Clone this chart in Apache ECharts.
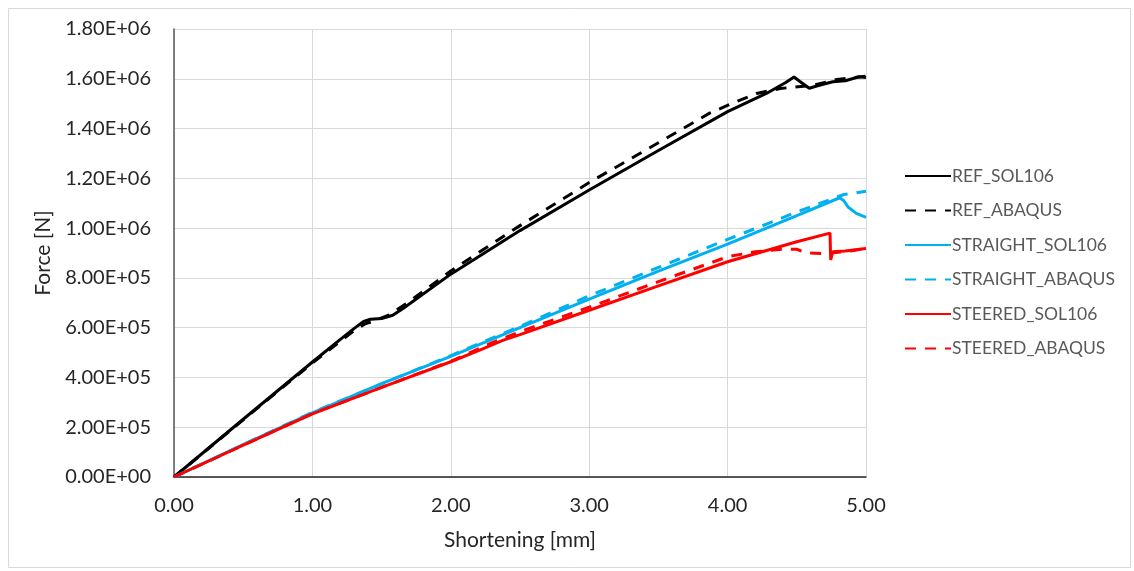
<!DOCTYPE html>
<html>
<head>
<meta charset="utf-8">
<script src="https://cdn.jsdelivr.net/npm/echarts@6/dist/echarts.min.js"></script>
<style>
  html, body { margin: 0; padding: 0; background: #fff; }
  #chart { width: 1134px; height: 571px; }
</style>
</head>
<body>
<div id="chart"></div>
<script>
// Shortening [mm], Force [N]
const refSol106 = [
  [0,0],[0.5,232000],[1.0,462000],[1.2,552000],[1.3,596000],[1.37,625000],[1.42,634000],
  [1.5,637000],[1.58,650000],[1.65,675000],[2.0,815000],[2.5,990000],[3.0,1153000],
  [3.5,1312000],[4.0,1468000],[4.28,1541000],[4.42,1585000],[4.48,1607000],[4.52,1590000],
  [4.59,1562000],[4.65,1572000],[4.76,1588000],[4.85,1592000],[4.95,1608000],[5.0,1605000]
];
const refAbaqus = [
  [0,0],[0.5,230000],[1.0,458000],[1.2,545000],[1.3,588000],[1.38,615000],[1.45,628000],
  [1.55,650000],[1.7,705000],[2.0,828000],[2.21,905000],[2.5,1010000],[3.0,1183000],
  [3.5,1343000],[3.87,1462000],[4.04,1503000],[4.21,1541000],[4.38,1561000],[4.62,1574000],
  [4.79,1597000],[5.0,1610000]
];
const straightSol106 = [
  [0,0],[0.5,130000],[1.0,258000],[1.5,375000],[2.0,485000],[2.5,600000],[3.0,715000],
  [3.5,827000],[4.0,936000],[4.5,1050000],[4.81,1122000],[4.84,1110000],[4.87,1085000],
  [4.93,1059000],[5.0,1043000]
];
const straightAbaqus = [
  [0,0],[1.0,260000],[2.0,488000],[2.5,605000],[3.0,728000],[3.5,842000],[4.0,955000],
  [4.3,1020000],[4.5,1065000],[4.84,1135000],[5.0,1148000]
];
const steeredSol106 = [
  [0,0],[0.5,128000],[1.0,254000],[1.5,360000],[2.0,463000],[2.2,508000],[2.38,550000],
  [2.5,572000],[3.0,670000],[3.5,768000],[4.0,865000],[4.5,945000],[4.74,980000],
  [4.745,872000],[4.76,905000],[4.85,908000],[5.0,918000]
];
const steeredAbaqus = [
  [0,0],[1.0,255000],[2.0,465000],[2.3,540000],[2.5,584000],[3.0,682000],[3.5,785000],
  [4.0,885000],[4.2,905000],[4.4,915000],[4.5,915000],[4.57,900000],[4.7,898000],
  [4.85,905000],[5.0,918000]
];

const seriesNames = ['REF_SOL106','REF_ABAQUS','STRAIGHT_SOL106','STRAIGHT_ABAQUS','STEERED_SOL106','STEERED_ABAQUS'];
const seriesData = [refSol106, refAbaqus, straightSol106, straightAbaqus, steeredSol106, steeredAbaqus];
const seriesColors = ['#000000','#000000','#00b0f0','#00b0f0','#ff0000','#ff0000'];
const seriesDashed = [false, true, false, true, false, true];

const xMin = 0, xMax = 5, xStep = 1;
const yMin = 0, yMax = 1800000, yStep = 200000;

function sci(v) {
  if (v === 0) return '0.00E+00';
  const s = v.toExponential(2).toUpperCase();
  const m = s.match(/^(.*)E([+-])(\d+)$/);
  return m[1] + 'E' + m[2] + (m[3].length < 2 ? '0' + m[3] : m[3]);
}

const FONT = 'Lato, "Open Sans", sans-serif';
const chart = echarts.init(document.getElementById('chart'), null, { renderer: 'canvas' });

chart.setOption({
  animation: false,
  backgroundColor: '#ffffff',
  graphic: [{
    type: 'rect', left: 6, top: 6,
    shape: { width: 1122, height: 559 },
    style: { fill: 'none', stroke: '#d9d9d9', lineWidth: 1 },
    silent: true
  }],
  grid: { left: 174, right: 268, top: 29, bottom: 94, containLabel: false },
  legend: {
    orient: 'vertical',
    left: 899, top: 162,
    itemWidth: 46, itemHeight: 14,
    itemGap: 16.5,
    data: seriesNames,
    itemStyle: { opacity: 0, borderWidth: 0 },
    textStyle: { color: '#595959', fontSize: 17.5, fontFamily: FONT, padding: [0, 0, 0, -4] }
  },
  xAxis: {
    type: 'value', min: xMin, max: xMax, interval: xStep,
    name: 'Shortening [mm]', nameLocation: 'middle', nameGap: 53,
    nameTextStyle: { color: '#262626', fontSize: 21, fontFamily: FONT },
    axisLine: { show: true, lineStyle: { color: '#262626', width: 1.5 } },
    axisTick: { show: false },
    axisLabel: { color: '#262626', fontSize: 20, fontFamily: FONT, margin: 19,
      formatter: v => v.toFixed(2) },
    splitLine: { show: true, lineStyle: { color: '#d9d9d9', width: 1 } }
  },
  yAxis: {
    type: 'value', min: yMin, max: yMax, interval: yStep,
    name: 'Force [N]', nameLocation: 'middle', nameGap: 120, nameRotate: 90,
    nameTextStyle: { color: '#262626', fontSize: 21, fontFamily: FONT },
    axisLine: { show: true, lineStyle: { color: '#595959', width: 1.5 } },
    axisTick: { show: false },
    axisLabel: { color: '#262626', fontSize: 20, fontFamily: FONT, margin: 23,
      formatter: v => sci(v) },
    splitLine: { show: true, lineStyle: { color: '#d9d9d9', width: 1 } }
  },
  series: seriesNames.map((name, i) => ({
    name: name,
    type: 'line',
    data: seriesData[i],
    showSymbol: false,
    symbol: 'none',
    smooth: false,
    color: seriesColors[i],
    lineStyle: { color: seriesColors[i], width: 3, type: seriesDashed[i] ? [11, 9] : 'solid' },
    z: seriesDashed[i] ? 3 : 2
  }))
});
</script>
</body>
</html>
